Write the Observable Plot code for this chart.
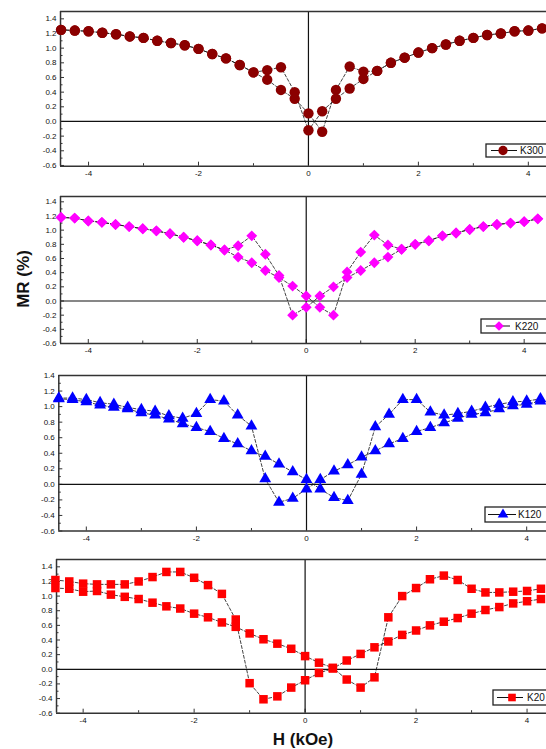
<!DOCTYPE html>
<html>
<head>
<meta charset="utf-8">
<script src="https://cdn.jsdelivr.net/npm/d3@7"></script>
<script src="https://cdn.jsdelivr.net/npm/@observablehq/plot@0.6"></script>
<style>
  body { margin: 0; background: #fff; }
  #chart { position: relative; width: 546px; height: 749px; overflow: hidden; background: #fff;
           font-family: "Liberation Sans", Arial, sans-serif; }
  #chart svg.plot { position: absolute; left: 0; }
  .ylab { position: absolute; left: 24px; top: 279px; transform: translate(-50%, -50%) rotate(-90deg);
          font-weight: bold; font-size: 17px; white-space: nowrap; color: #111; }
  .xlab { position: absolute; left: 303px; top: 740px; transform: translate(-50%, -50%);
          font-weight: bold; font-size: 17px; white-space: nowrap; color: #111; }
</style>
</head>
<body>
<div id="chart"></div>
<script>
// ---------- data ----------
const H = [-4.5,-4.25,-4,-3.75,-3.5,-3.25,-3,-2.75,-2.5,-2.25,-2,-1.75,-1.5,-1.25,-1,-0.75,-0.5,-0.25,
           0,0.25,0.5,0.75,1,1.25,1.5,1.75,2,2.25,2.5,2.75,3,3.25,3.5,3.75,4,4.25];

const k300Up   = [1.25,1.24,1.23,1.21,1.19,1.16,1.14,1.10,1.07,1.04,0.99,0.92,0.86,0.77,0.67,0.57,0.43,0.31,
                  0.11,-0.14,0.43,0.75,0.68,0.69,0.80,0.87,0.94,1.00,1.05,1.10,1.14,1.18,1.20,1.23,1.24,1.27];
const k300Down = [1.25,1.24,1.23,1.21,1.19,1.16,1.14,1.10,1.07,1.04,0.99,0.92,0.86,0.77,0.67,0.70,0.74,0.40,
                  -0.12,0.14,0.31,0.45,0.58,0.69,0.80,0.87,0.94,1.00,1.05,1.10,1.14,1.18,1.20,1.23,1.24,1.27];

const k220Up   = [1.18,1.17,1.13,1.11,1.08,1.05,1.02,0.99,0.95,0.90,0.85,0.79,0.72,0.62,0.54,0.43,0.33,0.21,
                  0.07,-0.09,-0.20,0.41,0.69,0.93,0.79,0.73,0.80,0.85,0.92,0.96,1.01,1.05,1.08,1.10,1.12,1.16];
const k220Down = [1.18,1.17,1.13,1.11,1.08,1.05,1.02,0.99,0.95,0.90,0.85,0.79,0.72,0.78,0.92,0.66,0.36,-0.20,
                  -0.09,0.07,0.20,0.33,0.43,0.54,0.62,0.73,0.80,0.85,0.92,0.96,1.01,1.05,1.08,1.10,1.12,1.16];

const k120Up   = [1.10,1.09,1.06,1.02,0.99,0.97,0.92,0.89,0.84,0.78,0.73,0.68,0.59,0.52,0.43,0.36,0.26,0.16,
                  0.06,-0.06,-0.17,-0.21,0.13,0.74,0.90,1.09,1.09,0.93,0.89,0.91,0.94,0.99,1.03,1.06,1.07,1.10];
const k120Down = [1.11,1.11,1.09,1.05,1.03,0.99,0.96,0.94,0.88,0.85,0.91,1.09,1.07,0.89,0.75,0.07,-0.23,-0.18,
                  -0.06,0.06,0.17,0.25,0.35,0.43,0.52,0.59,0.68,0.73,0.79,0.85,0.90,0.92,0.97,1.01,1.03,1.07];

const k20Up    = [1.11,1.10,1.06,1.07,1.02,0.99,0.96,0.91,0.86,0.83,0.76,0.71,0.64,0.58,0.49,0.41,0.35,0.28,
                  0.18,0.09,0.02,-0.14,-0.25,-0.11,0.71,1.00,1.11,1.23,1.28,1.22,1.10,1.05,1.05,1.06,1.07,1.10];
const k20Down  = [1.22,1.20,1.17,1.16,1.16,1.16,1.20,1.26,1.33,1.33,1.25,1.15,1.03,0.68,-0.19,-0.41,-0.37,-0.25,
                  -0.15,-0.05,0.01,0.12,0.21,0.30,0.38,0.47,0.53,0.60,0.65,0.70,0.76,0.81,0.85,0.90,0.93,0.96];

const seriesNames = ["K300", "K220", "K120", "K20"];
const yTicks  = [-0.6,-0.4,-0.2,0,0.2,0.4,0.6,0.8,1.0,1.2,1.4];
const yMinor  = [-0.5,-0.3,-0.1,0.1,0.3,0.5,0.7,0.9,1.1,1.3];
const xTicks  = [-4,-2,0,2,4];
const xMinor  = [-3,-1,1,3];

// ---------- styles / layout ----------
const ups   = [k300Up, k220Up, k120Up, k20Up];
const downs = [k300Down, k220Down, k120Down, k20Down];
const colors  = ["#8b0000", "#ff00ff", "#0000ff", "#ff0000"];
const symbols = ["circle", "diamond2", "triangle", "square"];
const radii   = [5.2, 4.9, 4.4, 4.8];
const layout = [
  {top: 11,    bottom: 165.7, left: 60,   x: [-4.51, 4.33], y: [-0.61, 1.5]},
  {top: 195.7, bottom: 342.7, left: 60,   x: [-4.51, 4.41], y: [-0.6, 1.475]},
  {top: 374.5, bottom: 530,   left: 58.3, x: [-4.50, 4.36], y: [-0.6, 1.4]},
  {top: 559,   bottom: 712.7, left: 56,   x: [-4.48, 4.35], y: [-0.6, 1.5]}
];
const legends = [
  {x: 486, y: 144, h: 13, l1: 491, l2: 517, m: 503, t: 520},
  {x: 481, y: 319, h: 14, l1: 486, l2: 510, m: 499, t: 515},
  {x: 485, y: 507, h: 15, l1: 488, l2: 516, m: 503, t: 518},
  {x: 493, y: 690, h: 15, l1: 497, l2: 523, m: 512, t: 527}
];

const root = document.getElementById("chart");
const W = 546, MT = 8, MB = 22;

layout.forEach((L, i) => {
  const innerW = W - L.left;
  const innerH = L.bottom - L.top;
  const rows = H.map((h, j) => ({h, up: ups[i][j], down: downs[i][j]}));
  const svg = Plot.plot({
    width: W,
    height: innerH + MT + MB,
    marginLeft: L.left, marginRight: 0, marginTop: MT, marginBottom: MB,
    style: {fontFamily: "Liberation Sans, Arial, sans-serif", fontSize: "8px", color: "#111",
            background: "transparent", overflow: "visible"},
    x: {domain: L.x, label: null},
    y: {domain: L.y, label: null},
    marks: [
      Plot.axisX(xTicks, {tickSize: 0, tickPadding: 4, tickFormat: d => String(d), label: null, fontSize: 8}),
      Plot.axisY(yTicks, {tickSize: 0, tickPadding: 4, tickFormat: d => d.toFixed(1), label: null, fontSize: 8}),
      Plot.tickY(yTicks, {y: d => d, insetRight: innerW - 4, stroke: "#333"}),
      Plot.tickY(yMinor, {y: d => d, insetRight: innerW - 2.5, stroke: "#333"}),
      Plot.tickX(xTicks, {x: d => d, insetTop: innerH - 4, stroke: "#333"}),
      Plot.tickX(xMinor, {x: d => d, insetTop: innerH - 2.5, stroke: "#333"}),
      Plot.ruleY([0], {stroke: "#111", strokeWidth: 1.2}),
      Plot.ruleX([0], {stroke: "#111", strokeWidth: 1.2}),
      Plot.ruleX([L.x[0]], {stroke: "#333", strokeWidth: 1.5}),
      Plot.ruleY(L.y, {stroke: "#333", strokeWidth: 1.5}),
      Plot.line(rows, {x: "h", y: "up", stroke: "#111", strokeWidth: 0.8, strokeDasharray: "3,2"}),
      Plot.line(rows, {x: "h", y: "down", stroke: "#111", strokeWidth: 0.8, strokeDasharray: "3,2"}),
      Plot.dot(rows, {x: "h", y: "up", symbol: symbols[i], r: radii[i], fill: colors[i], stroke: "none"}),
      Plot.dot(rows, {x: "h", y: "down", symbol: symbols[i], r: radii[i], fill: colors[i], stroke: "none"})
    ]
  });
  svg.classList.add("plot");
  svg.style.top = (L.top - MT) + "px";
  root.appendChild(svg);
});

// legends overlay
const ov = d3.select(root).append("svg")
  .attr("width", W).attr("height", 749)
  .style("position", "absolute").style("left", 0).style("top", 0).style("pointer-events", "none");
const symMap = {circle: d3.symbolCircle, diamond2: d3.symbolDiamond2, triangle: d3.symbolTriangle, square: d3.symbolSquare};
legends.forEach((g, i) => {
  const cy = g.y + g.h / 2;
  ov.append("rect").attr("x", g.x).attr("y", g.y).attr("width", W + 5 - g.x).attr("height", g.h)
    .attr("fill", "#fff").attr("stroke", "#222").attr("stroke-width", 1.3);
  ov.append("line").attr("x1", g.l1).attr("x2", g.l2).attr("y1", cy).attr("y2", cy)
    .attr("stroke", "#111").attr("stroke-width", 1);
  ov.append("path").attr("transform", `translate(${g.m},${cy})`)
    .attr("d", d3.symbol(symMap[symbols[i]], Math.PI * radii[i] * radii[i] * 0.8)())
    .attr("fill", colors[i]);
  ov.append("text").attr("x", g.t).attr("y", cy).attr("dy", "0.35em")
    .attr("font-family", "Liberation Sans, Arial, sans-serif").attr("font-size", 10).attr("fill", "#111")
    .text(seriesNames[i]);
});

const yl = document.createElement("div"); yl.className = "ylab"; yl.textContent = "MR (%)"; root.appendChild(yl);
const xl = document.createElement("div"); xl.className = "xlab"; xl.textContent = "H (kOe)"; root.appendChild(xl);
</script>
</body>
</html>
